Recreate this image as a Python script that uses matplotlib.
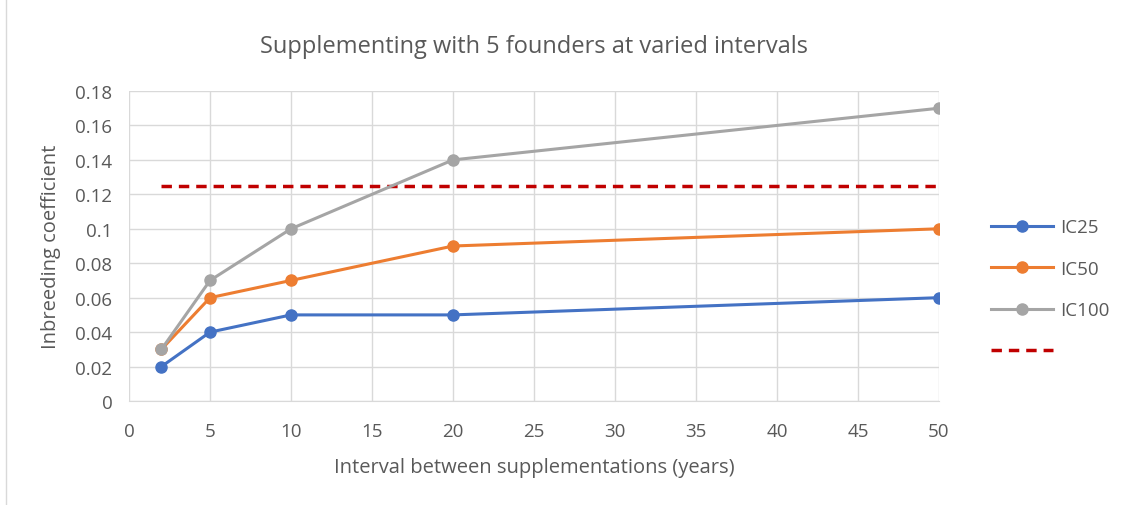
import matplotlib.pyplot as plt
from matplotlib.patches import Rectangle

plt.rcParams["font.family"] = ["Open Sans", "DejaVu Sans"]

intervals = [2, 5, 10, 20, 50]
ic25 = [0.02, 0.04, 0.05, 0.05, 0.06]
ic50 = [0.03, 0.06, 0.07, 0.09, 0.10]
ic100 = [0.03, 0.07, 0.10, 0.14, 0.17]
threshold_x = [2, 50]
threshold_y = [0.125, 0.125]

text_col = "#595959"
grid_col = "#d9d9d9"

fig = plt.figure(figsize=(11.24, 5.06), dpi=100)
ax = fig.add_axes([0.1148, 0.2055, 0.7206, 0.6127])

ax.plot(intervals, ic25, color="#4472c4", lw=2.2, marker="o", ms=8, label="IC25", zorder=3)
ax.plot(intervals, ic50, color="#ed7d31", lw=2.2, marker="o", ms=8, label="IC50", zorder=3)
ax.plot(intervals, ic100, color="#a5a5a5", lw=2.2, marker="o", ms=8, label="IC100", zorder=3)
ax.plot(threshold_x, threshold_y, color="#c00000", lw=2.5, ls=(0, (3, 2)), label=" ", zorder=2)

ax.set_xlim(0, 50)
ax.set_ylim(0, 0.18)
ax.set_xticks(range(0, 51, 5))
ax.set_yticks([0, 0.02, 0.04, 0.06, 0.08, 0.1, 0.12, 0.14, 0.16, 0.18])
ax.set_yticklabels(["0", "0.02", "0.04", "0.06", "0.08", "0.1", "0.12", "0.14", "0.16", "0.18"])
ax.grid(True, color=grid_col, lw=1)
ax.set_axisbelow(True)
for s in ["top", "right", "left"]:
    ax.spines[s].set_visible(False)
ax.spines["bottom"].set_color(grid_col)
ax.tick_params(length=0, labelsize=13.5, colors=text_col)
ax.tick_params(axis="x", pad=15)
ax.tick_params(axis="y", pad=12)

ax.set_xlabel("Interval between supplementations (years)", fontsize=14.5, color=text_col, labelpad=12)
ax.set_ylabel("Inbreeding coefficient", fontsize=14.5, color=text_col, labelpad=10)
ax.set_title("Supplementing with 5 founders at varied intervals", fontsize=17, color=text_col, pad=28)

ax.legend(loc="center left", bbox_to_anchor=(1.043, 0.36), frameon=False,
          fontsize=13.5, labelcolor=text_col, handlelength=3.3, handletextpad=0.4,
          labelspacing=1.25)

fig.patches.append(Rectangle((0.005, -0.01), 1.0, 1.02, transform=fig.transFigure,
                             fill=False, edgecolor="#d9d9d9", lw=1))

fig.savefig("out.png", dpi=100)
